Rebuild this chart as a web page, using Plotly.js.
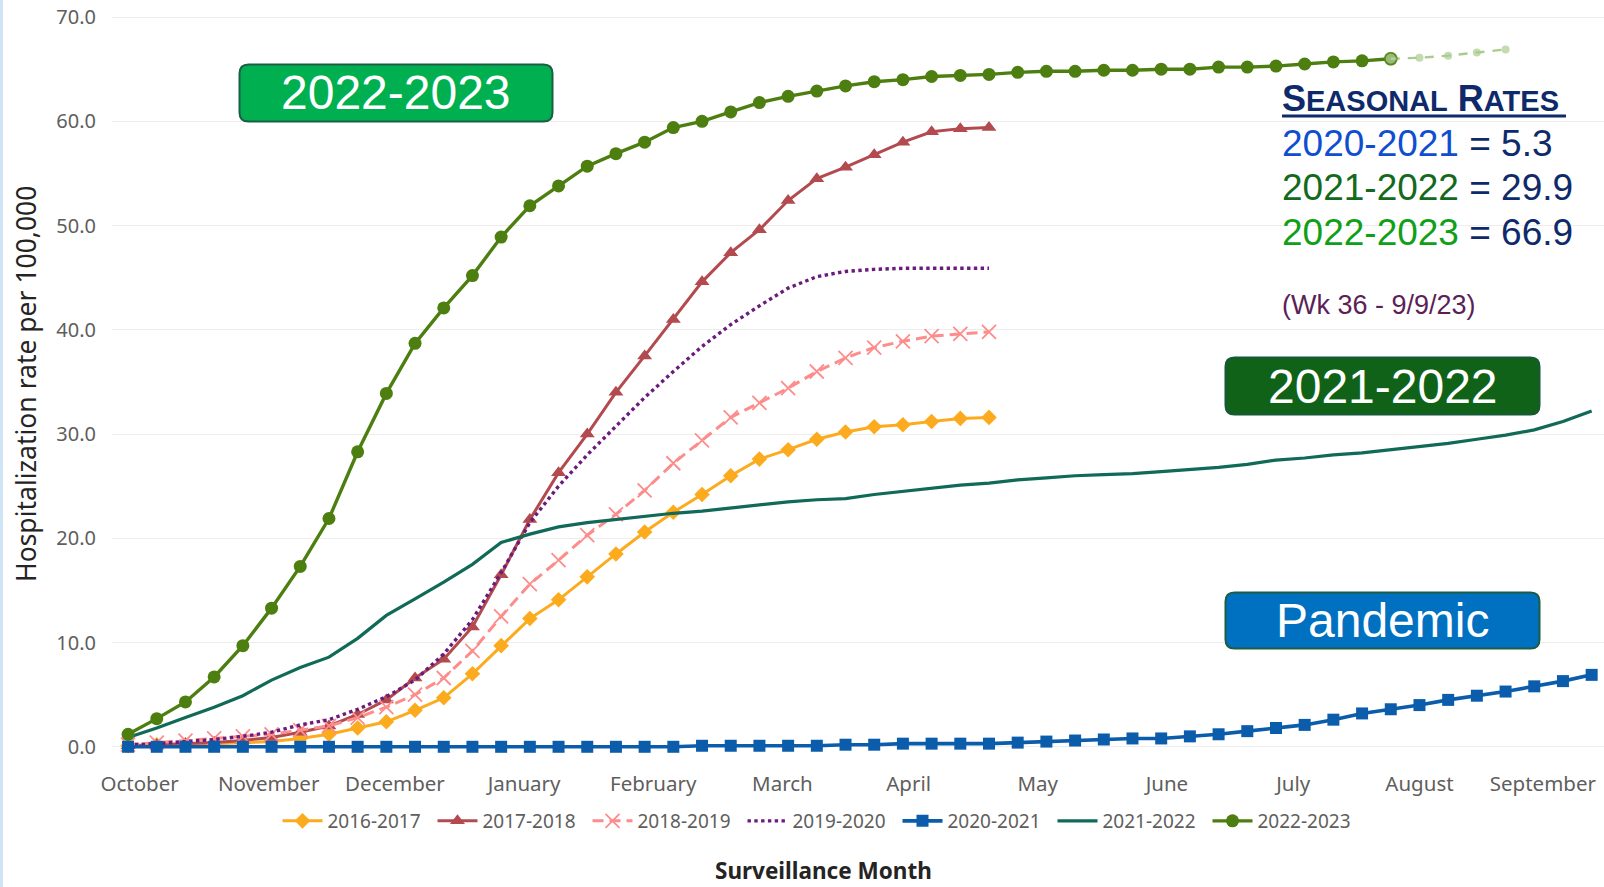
<!DOCTYPE html>
<html>
<head>
<meta charset="utf-8">
<script src="https://cdn.plot.ly/plotly-3.0.1.min.js"></script>
<style>
  html, body { margin: 0; padding: 0; background: #ffffff; overflow: hidden; }
  #chart { width: 1604px; height: 887px; }
</style>
</head>
<body>
<div id="chart"></div>
<script>
// Surveillance week index (0 = first week of October)
const weeks = [0,1,2,3,4,5,6,7,8,9,10,11,12,13,14,15,16,17,18,19,20,21,22,23,24,25,
               26,27,28,29,30,31,32,33,34,35,36,37,38,39,40,41,42,43,44,45,46,47,48,49,50,51];

const monthTickPos = [0.4, 4.9, 9.3, 13.8, 18.3, 22.8, 27.2, 31.7, 36.2, 40.6, 45.0, 49.3];
const monthLabels  = ['October','November','December','January','February','March',
                      'April','May','June','July','August','September'];

const yTicks      = [0, 10, 20, 30, 40, 50, 60, 70];
const yTickLabels = ['0.0','10.0','20.0','30.0','40.0','50.0','60.0','70.0'];

// Cumulative hospitalization rate per 100,000 by season
const rate2016 = [0.1,0.2,0.2,0.3,0.4,0.5,0.8,1.2,1.8,2.4,3.5,4.7,7.0,9.7,12.3,14.1,16.3,18.5,20.6,22.5,
                  24.2,26.0,27.6,28.5,29.5,30.2,30.7,30.9,31.2,31.5,31.6];
const rate2017 = [0.1,0.2,0.3,0.4,0.6,0.9,1.4,2.0,3.1,4.5,6.6,8.4,11.5,16.5,21.8,26.3,30.0,34.0,37.5,41.0,
                  44.6,47.4,49.6,52.4,54.5,55.6,56.8,58.0,59.0,59.3,59.4];
const rate2018 = [0.2,0.4,0.6,0.8,1.0,1.2,1.6,2.0,2.8,3.8,5.0,6.6,9.2,12.5,15.6,17.9,20.3,22.3,24.6,27.2,
                  29.4,31.6,33.0,34.4,36.0,37.3,38.3,38.9,39.4,39.6,39.8];
const rate2019 = [0.2,0.3,0.5,0.7,1.0,1.4,2.1,2.6,3.6,4.8,6.4,8.9,12.2,16.7,21.5,25.0,28.0,30.8,33.5,36.0,
                  38.4,40.5,42.3,44.0,45.1,45.6,45.8,45.9,45.9,45.9,45.9];
const rate2020 = [0.0,0.0,0.0,0.0,0.0,0.0,0.0,0.0,0.0,0.0,0.0,0.0,0.0,0.0,0.0,0.0,0.0,0.0,0.0,0.0,
                  0.1,0.1,0.1,0.1,0.1,0.2,0.2,0.3,0.3,0.3,0.3,0.4,0.5,0.6,0.7,0.8,0.8,1.0,1.2,1.5,
                  1.8,2.1,2.6,3.2,3.6,4.0,4.5,4.9,5.3,5.8,6.3,6.9];
const rate2021 = [0.9,1.8,2.8,3.8,4.9,6.4,7.6,8.6,10.4,12.6,14.2,15.8,17.5,19.6,20.4,21.1,21.5,21.8,22.1,22.4,
                  22.6,22.9,23.2,23.5,23.7,23.8,24.2,24.5,24.8,25.1,25.3,25.6,25.8,26.0,26.1,26.2,26.4,26.6,26.8,27.1,
                  27.5,27.7,28.0,28.2,28.5,28.8,29.1,29.5,29.9,30.4,31.2,32.2];
const rate2022 = [1.2,2.7,4.3,6.7,9.7,13.3,17.3,21.9,28.3,33.9,38.7,42.1,45.2,48.9,51.9,53.8,55.7,56.9,58.0,59.4,
                  60.0,60.9,61.8,62.4,62.9,63.4,63.8,64.0,64.3,64.4,64.5,64.7,64.8,64.8,64.9,64.9,65.0,65.0,65.2,65.2,
                  65.3,65.5,65.7,65.8,66.0];
// Preliminary 2022-2023 weeks (through Wk 36)
const prelimWeeks2022 = [44, 45, 46, 47, 48];
const prelimRate2022  = [66.0, 66.1, 66.3, 66.6, 66.9];

const seasonNames = ['2016-2017','2017-2018','2018-2019','2019-2020','2020-2021','2021-2022','2022-2023'];

// ---- page geometry ----
const W = 1604, H = 887;
const M = { l: 112, r: 0, t: 15, b: 135 };
const plotW = W - M.l - M.r, plotH = H - M.t - M.b, plotBottom = H - M.b;
const px = p => (p - M.l) / plotW;          // pixel x -> paper x
const py = p => (plotBottom - p) / plotH;   // pixel y -> paper y

function roundRect(x0, y0, x1, y1, r) {
  const X = v => px(v).toFixed(5), Y = v => py(v).toFixed(5);
  return `M ${X(x0 + r)},${Y(y0)} L ${X(x1 - r)},${Y(y0)} Q ${X(x1)},${Y(y0)} ${X(x1)},${Y(y0 + r)} ` +
         `L ${X(x1)},${Y(y1 - r)} Q ${X(x1)},${Y(y1)} ${X(x1 - r)},${Y(y1)} ` +
         `L ${X(x0 + r)},${Y(y1)} Q ${X(x0)},${Y(y1)} ${X(x0)},${Y(y1 - r)} ` +
         `L ${X(x0)},${Y(y0 + r)} Q ${X(x0)},${Y(y0)} ${X(x0 + r)},${Y(y0)} Z`;
}

const uiFont = "'Segoe UI', 'Noto Sans', sans-serif";
const boxFont = "'Liberation Sans', Arial, sans-serif";

function season(name, xs, ys, color, extra) {
  return Object.assign({
    type: 'scatter', mode: 'lines+markers', name: name,
    x: xs, y: ys, cliponaxis: false, hoverinfo: 'x+y+name',
    line: { color: color, width: 3 }
  }, extra);
}

const traces = [
  season(seasonNames[0], weeks.slice(0, rate2016.length), rate2016, '#fdab1e',
         { marker: { symbol: 'diamond', size: 12, color: '#fdab1e' } }),
  season(seasonNames[1], weeks.slice(0, rate2017.length), rate2017, '#b24a4f',
         { marker: { symbol: 'triangle-up', size: 13, color: '#b24a4f' } }),
  season(seasonNames[2], weeks.slice(0, rate2018.length), rate2018, '#fd8c8c',
         { line: { color: '#fd8c8c', width: 3, dash: '11px,6px' },
           marker: { symbol: 'x-thin', size: 14, color: '#fd8c8c', line: { color: '#fd8c8c', width: 1.8 } } }),
  season(seasonNames[3], weeks.slice(0, rate2019.length), rate2019, '#6a1b7c',
         { mode: 'lines', line: { color: '#6a1b7c', width: 3.4, dash: 'dot' } }),
  season(seasonNames[4], weeks, rate2020, '#0b5dab',
         { line: { color: '#0b5dab', width: 3.6 }, marker: { symbol: 'square', size: 12, color: '#0b5dab' } }),
  season(seasonNames[5], weeks, rate2021, '#106a57',
         { mode: 'lines', line: { color: '#106a57', width: 3.2 } }),
  season(seasonNames[6], weeks.slice(0, rate2022.length), rate2022, '#4c7e10',
         { line: { color: '#4c7e10', width: 3.4 }, marker: { symbol: 'circle', size: 13, color: '#4c7e10' } }),
  season(seasonNames[6] + ' (preliminary)', prelimWeeks2022, prelimRate2022, '#a9cc8c',
         { showlegend: false,
           line: { color: '#a9cc8c', width: 2.4, dash: '9px,8px' },
           marker: { symbol: 'circle', size: [12, 8, 8, 8, 8],
                     color: ['#b9d5a0', '#a9cc8c', '#a9cc8c', '#a9cc8c', '#a9cc8c'],
                     line: { color: ['#5e8c2a', '#a9cc8c', '#a9cc8c', '#a9cc8c', '#a9cc8c'], width: [2, 0, 0, 0, 0] } } })
];

const navy = '#0f2a6b';
const layout = {
  width: W, height: H,
  margin: M,
  paper_bgcolor: '#ffffff', plot_bgcolor: '#ffffff',
  showlegend: true,
  font: { family: uiFont, color: '#605e5c', size: 19 },
  xaxis: {
    range: [-0.56, 51.43], tickmode: 'array', tickvals: monthTickPos, ticktext: monthLabels,
    showgrid: false, zeroline: false, showline: false,
    ticks: 'outside', ticklen: 13, tickcolor: 'rgba(0,0,0,0)',
    tickfont: { family: uiFont, size: 20.5, color: '#605e5c' }, fixedrange: true
  },
  yaxis: {
    range: [-0.5, 70.2], tickmode: 'array', tickvals: yTicks, ticktext: yTickLabels,
    showgrid: true, gridcolor: '#efedeb', gridwidth: 1, zeroline: false, showline: false,
    ticks: 'outside', ticklen: 11, tickcolor: 'rgba(0,0,0,0)',
    tickfont: { family: uiFont, size: 20, color: '#605e5c' }, fixedrange: true
  },
  legend: {
    orientation: 'h', x: px(820), xanchor: 'center', y: py(821), yanchor: 'middle',
    font: { family: uiFont, size: 19, color: '#605e5c' },
    bgcolor: 'rgba(0,0,0,0)', itemclick: false, itemdoubleclick: false,
    tracegroupgap: 0, itemwidth: 40, entrywidth: 100, entrywidthmode: 'pixels'
  },
  shapes: [
    { type: 'rect', xref: 'paper', yref: 'paper', x0: px(0), x1: px(3), y0: py(H), y1: py(0),
      fillcolor: '#cfe5f6', line: { width: 0 }, layer: 'above' },
    { type: 'path', xref: 'paper', yref: 'paper', path: roundRect(239.5, 64.5, 552.5, 121.5, 9),
      fillcolor: '#00b050', line: { color: '#1b5e44', width: 2 }, layer: 'above' },
    { type: 'path', xref: 'paper', yref: 'paper', path: roundRect(1225.5, 357.5, 1539.5, 414.5, 9),
      fillcolor: '#116219', line: { color: '#17583a', width: 2 }, layer: 'above' },
    { type: 'path', xref: 'paper', yref: 'paper', path: roundRect(1225.5, 592.5, 1539.5, 648.5, 9),
      fillcolor: '#0070c0', line: { color: '#1b5e44', width: 2 }, layer: 'above' },
    { type: 'line', xref: 'paper', yref: 'paper', x0: px(1282), x1: px(1566), y0: py(116), y1: py(116),
      line: { color: navy, width: 3 }, layer: 'above' }
  ],
  annotations: [
    { text: 'Hospitalization rate per 100,000', xref: 'paper', yref: 'paper', x: px(26), y: py(384),
      xanchor: 'center', yanchor: 'middle', textangle: -90, showarrow: false,
      font: { family: uiFont, size: 26.5, color: '#252423' } },
    { text: '<b>Surveillance Month</b>', xref: 'paper', yref: 'paper', x: px(823), y: py(870),
      xanchor: 'center', yanchor: 'middle', showarrow: false,
      font: { family: uiFont, size: 22.5, color: '#252423' } },
    { text: '2022-2023', xref: 'paper', yref: 'paper', x: px(396), y: py(93),
      xanchor: 'center', yanchor: 'middle', showarrow: false,
      font: { family: boxFont, size: 48, color: '#ffffff' } },
    { text: '2021-2022', xref: 'paper', yref: 'paper', x: px(1382.5), y: py(386),
      xanchor: 'center', yanchor: 'middle', showarrow: false,
      font: { family: boxFont, size: 48, color: '#ffffff' } },
    { text: 'Pandemic', xref: 'paper', yref: 'paper', x: px(1382.5), y: py(620.5),
      xanchor: 'center', yanchor: 'middle', showarrow: false,
      font: { family: boxFont, size: 48, color: '#ffffff' } },
    { text: '<b>S<span style="font-size:29px">EASONAL</span> R<span style="font-size:29px">ATES</span></b>',
      xref: 'paper', yref: 'paper', x: px(1280), y: py(98),
      xanchor: 'left', yanchor: 'middle', showarrow: false,
      font: { family: boxFont, size: 36, color: navy } },
    { text: '<span style="color:#0f4ecf">2020-2021</span> = 5.3',
      xref: 'paper', yref: 'paper', x: px(1280), y: py(143),
      xanchor: 'left', yanchor: 'middle', showarrow: false,
      font: { family: boxFont, size: 37, color: navy } },
    { text: '<span style="color:#136a1c">2021-2022</span> = 29.9',
      xref: 'paper', yref: 'paper', x: px(1280), y: py(187),
      xanchor: 'left', yanchor: 'middle', showarrow: false,
      font: { family: boxFont, size: 37, color: navy } },
    { text: '<span style="color:#10a018">2022-2023</span> = 66.9',
      xref: 'paper', yref: 'paper', x: px(1280), y: py(232),
      xanchor: 'left', yanchor: 'middle', showarrow: false,
      font: { family: boxFont, size: 37, color: navy } },
    { text: '(Wk 36 - 9/9/23)',
      xref: 'paper', yref: 'paper', x: px(1280), y: py(305),
      xanchor: 'left', yanchor: 'middle', showarrow: false,
      font: { family: boxFont, size: 27, color: '#5c1f58' } }
  ]
};

Plotly.newPlot('chart', traces, layout, { displayModeBar: false, staticPlot: true });
</script>
</body>
</html>
